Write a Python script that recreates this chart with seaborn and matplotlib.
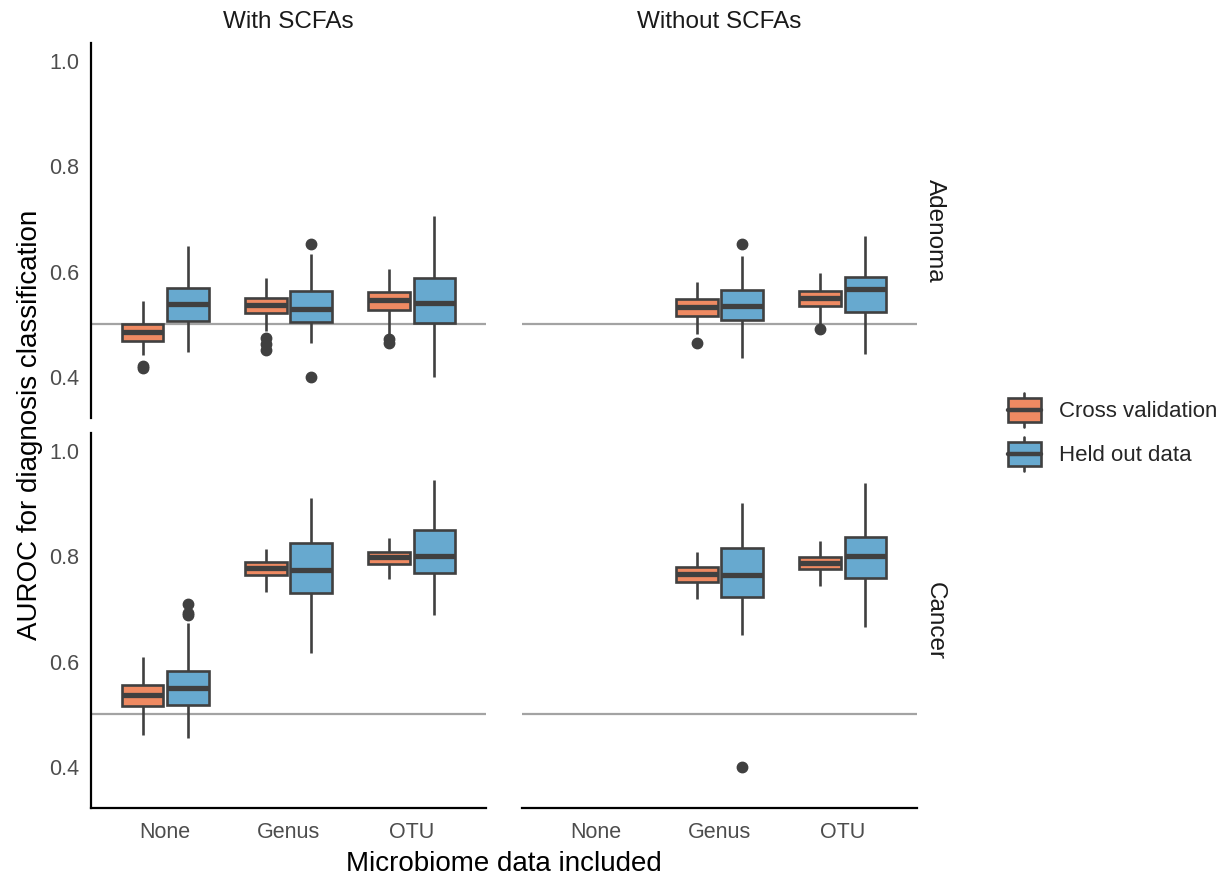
import numpy as np
import pandas as pd
import seaborn as sns
import matplotlib.pyplot as plt
from matplotlib.legend_handler import HandlerBase
from matplotlib.patches import Rectangle, Patch
from matplotlib.lines import Line2D

######### Data (AUROC per model run) #########
levels = ["None", "Genus", "OTU"]
methods = ["Cross validation", "Held out data"]
outcomes = ["Adenoma", "Cancer"]
scfa_sets = ["With SCFAs", "Without SCFAs"]

# Adenoma, with SCFAs
aden_with_none_cv = [0.417, 0.421, 0.441, 0.455, 0.469, 0.474, 0.478, 0.482, 0.486, 0.489, 0.493, 0.497, 0.500, 0.510, 0.520, 0.532, 0.545]
aden_with_none_ho = [0.448, 0.465, 0.480, 0.495, 0.507, 0.515, 0.524, 0.531, 0.538, 0.546, 0.554, 0.561, 0.568, 0.585, 0.605, 0.625, 0.648]
aden_with_genus_cv = [0.452, 0.463, 0.474, 0.487, 0.522, 0.526, 0.530, 0.534, 0.537, 0.540, 0.544, 0.547, 0.550, 0.560, 0.568, 0.577, 0.587]
aden_with_genus_ho = [0.399, 0.464, 0.480, 0.495, 0.505, 0.512, 0.518, 0.524, 0.529, 0.536, 0.544, 0.553, 0.563, 0.585, 0.610, 0.634, 0.652]
aden_with_otu_cv = [0.465, 0.472, 0.481, 0.500, 0.527, 0.532, 0.537, 0.542, 0.546, 0.550, 0.554, 0.558, 0.561, 0.572, 0.583, 0.594, 0.604]
aden_with_otu_ho = [0.399, 0.430, 0.460, 0.485, 0.502, 0.512, 0.522, 0.531, 0.540, 0.552, 0.564, 0.576, 0.588, 0.615, 0.645, 0.675, 0.705]

# Adenoma, without SCFAs
aden_without_genus_cv = [0.465, 0.481, 0.495, 0.505, 0.516, 0.520, 0.525, 0.529, 0.533, 0.537, 0.541, 0.545, 0.548, 0.556, 0.564, 0.572, 0.580]
aden_without_genus_ho = [0.435, 0.460, 0.480, 0.495, 0.509, 0.515, 0.522, 0.528, 0.535, 0.542, 0.550, 0.557, 0.565, 0.585, 0.605, 0.630, 0.652]
aden_without_otu_cv = [0.491, 0.500, 0.512, 0.524, 0.535, 0.539, 0.543, 0.547, 0.550, 0.553, 0.556, 0.560, 0.563, 0.572, 0.580, 0.588, 0.597]
aden_without_otu_ho = [0.443, 0.465, 0.490, 0.508, 0.524, 0.535, 0.546, 0.556, 0.566, 0.572, 0.578, 0.584, 0.589, 0.608, 0.628, 0.648, 0.668]

# Cancer, with SCFAs
canc_with_none_cv = [0.461, 0.475, 0.490, 0.503, 0.515, 0.521, 0.526, 0.532, 0.537, 0.542, 0.547, 0.551, 0.556, 0.570, 0.583, 0.596, 0.608]
canc_with_none_ho = [0.454, 0.475, 0.495, 0.507, 0.517, 0.525, 0.534, 0.542, 0.550, 0.558, 0.567, 0.575, 0.583, 0.673, 0.688, 0.692, 0.710]
canc_with_genus_cv = [0.733, 0.742, 0.750, 0.757, 0.764, 0.768, 0.771, 0.775, 0.778, 0.781, 0.784, 0.787, 0.789, 0.795, 0.801, 0.807, 0.813]
canc_with_genus_ho = [0.617, 0.650, 0.685, 0.710, 0.730, 0.741, 0.752, 0.762, 0.773, 0.786, 0.799, 0.812, 0.825, 0.850, 0.870, 0.890, 0.910]
canc_with_otu_cv = [0.757, 0.765, 0.772, 0.779, 0.786, 0.789, 0.792, 0.795, 0.798, 0.801, 0.803, 0.806, 0.808, 0.815, 0.822, 0.829, 0.835]
canc_with_otu_ho = [0.688, 0.710, 0.735, 0.755, 0.769, 0.777, 0.785, 0.792, 0.800, 0.812, 0.825, 0.838, 0.850, 0.875, 0.900, 0.922, 0.945]

# Cancer, without SCFAs
canc_without_genus_cv = [0.719, 0.728, 0.736, 0.744, 0.751, 0.755, 0.759, 0.762, 0.766, 0.769, 0.772, 0.776, 0.779, 0.786, 0.793, 0.800, 0.808]
canc_without_genus_ho = [0.400, 0.651, 0.680, 0.705, 0.723, 0.733, 0.743, 0.754, 0.764, 0.777, 0.790, 0.803, 0.815, 0.840, 0.865, 0.885, 0.902]
canc_without_otu_cv = [0.743, 0.752, 0.760, 0.768, 0.775, 0.778, 0.782, 0.785, 0.788, 0.791, 0.794, 0.796, 0.799, 0.807, 0.814, 0.822, 0.829]
canc_without_otu_ho = [0.665, 0.690, 0.715, 0.740, 0.759, 0.769, 0.779, 0.790, 0.800, 0.809, 0.818, 0.827, 0.836, 0.860, 0.885, 0.912, 0.940]

groups = [
    ("Adenoma", "With SCFAs", "None", "Cross validation", aden_with_none_cv),
    ("Adenoma", "With SCFAs", "None", "Held out data", aden_with_none_ho),
    ("Adenoma", "With SCFAs", "Genus", "Cross validation", aden_with_genus_cv),
    ("Adenoma", "With SCFAs", "Genus", "Held out data", aden_with_genus_ho),
    ("Adenoma", "With SCFAs", "OTU", "Cross validation", aden_with_otu_cv),
    ("Adenoma", "With SCFAs", "OTU", "Held out data", aden_with_otu_ho),
    ("Adenoma", "Without SCFAs", "Genus", "Cross validation", aden_without_genus_cv),
    ("Adenoma", "Without SCFAs", "Genus", "Held out data", aden_without_genus_ho),
    ("Adenoma", "Without SCFAs", "OTU", "Cross validation", aden_without_otu_cv),
    ("Adenoma", "Without SCFAs", "OTU", "Held out data", aden_without_otu_ho),
    ("Cancer", "With SCFAs", "None", "Cross validation", canc_with_none_cv),
    ("Cancer", "With SCFAs", "None", "Held out data", canc_with_none_ho),
    ("Cancer", "With SCFAs", "Genus", "Cross validation", canc_with_genus_cv),
    ("Cancer", "With SCFAs", "Genus", "Held out data", canc_with_genus_ho),
    ("Cancer", "With SCFAs", "OTU", "Cross validation", canc_with_otu_cv),
    ("Cancer", "With SCFAs", "OTU", "Held out data", canc_with_otu_ho),
    ("Cancer", "Without SCFAs", "Genus", "Cross validation", canc_without_genus_cv),
    ("Cancer", "Without SCFAs", "Genus", "Held out data", canc_without_genus_ho),
    ("Cancer", "Without SCFAs", "OTU", "Cross validation", canc_without_otu_cv),
    ("Cancer", "Without SCFAs", "OTU", "Held out data", canc_without_otu_ho),
]

records = []
for outcome, scfa, level, method, values in groups:
    for v in values:
        records.append({"outcome": outcome, "scfa": scfa, "level": level,
                        "method": method, "auc": v})
df = pd.DataFrame(records)

######### Style #########
sns.set_theme(style="white")
plt.rcParams["font.family"] = ["Liberation Sans", "DejaVu Sans"]

palette = {"Cross validation": "#EF8A62", "Held out data": "#67A9CF"}
edge = "#404040"
lw = 1.9

W, H = 1227, 876
fig = plt.figure(figsize=(W / 100, H / 100), dpi=100)

col_x = [91, 522]
col_w = 395
row_y = [43, 433]
row_h = 375

for r, outcome in enumerate(outcomes):
    for c, scfa in enumerate(scfa_sets):
        ax = fig.add_axes([col_x[c] / W, 1 - (row_y[r] + row_h) / H, col_w / W, row_h / H])
        sub = df[(df["outcome"] == outcome) & (df["scfa"] == scfa)]
        ax.axhline(0.5, color="#A3A3A3", lw=1.6, zorder=0)
        sns.boxplot(data=sub, x="level", y="auc", hue="method",
                    order=levels, hue_order=methods, palette=palette,
                    width=0.73, gap=0.07, saturation=1,
                    linecolor=edge, linewidth=lw, fliersize=7.5,
                    flierprops=dict(marker="o", markerfacecolor=edge,
                                    markeredgecolor=edge),
                    medianprops=dict(linewidth=3.8, color=edge),
                    showcaps=False, legend=False, ax=ax)
        ax.set_xlim(-0.6, 2.6)
        ax.set_ylim(0.322, 1.034)
        ax.set_yticks([0.4, 0.6, 0.8, 1.0])
        ax.set_xlabel("")
        ax.set_ylabel("")
        for s in ["top", "right", "left", "bottom"]:
            ax.spines[s].set_visible(False)
        ax.tick_params(axis="both", colors="#333333", labelcolor="#4D4D4D",
                       labelsize=15.5, length=4.3, width=1.1, pad=4)
        ax.tick_params(axis="x", pad=6)
        if c == 0:
            ax.spines["left"].set_visible(True)
            ax.spines["left"].set_color("black")
            ax.spines["left"].set_linewidth(1.6)
            ax.yaxis.set_major_formatter(plt.FuncFormatter(lambda v, p: f"{v:.1f}"))
        else:
            ax.tick_params(axis="y", left=False, labelleft=False)
        if r == 1:
            ax.spines["bottom"].set_visible(True)
            ax.spines["bottom"].set_color("black")
            ax.spines["bottom"].set_linewidth(1.6)
        else:
            ax.tick_params(axis="x", bottom=False, labelbottom=False)

# facet strips
for c, scfa in enumerate(scfa_sets):
    fig.text((col_x[c] + col_w / 2) / W, 1 - 22 / H, scfa, ha="center",
             va="center", fontsize=17.5, color="#1A1A1A")
for r, outcome in enumerate(outcomes):
    fig.text(935 / W, 1 - (row_y[r] + row_h / 2) / H, outcome, ha="center",
             va="center", rotation=-90, fontsize=17.5, color="#1A1A1A")

fig.text(30 / W, 1 - 425 / H, "AUROC for diagnosis classification",
         rotation=90, ha="center", va="center", fontsize=20, color="black")
fig.text(504 / W, 1 - 871 / H, "Microbiome data included", ha="center",
         va="baseline", fontsize=20, color="black")


######### Legend with box-shaped keys #########
class BoxKey(HandlerBase):
    def create_artists(self, legend, orig_handle, xdescent, ydescent,
                       width, height, fontsize, trans):
        x0, y0 = -xdescent, -ydescent
        cx = x0 + width / 2
        b0, b1 = y0 + 0.16 * height, y0 + 0.84 * height
        whisk = Line2D([cx, cx], [y0, y0 + height], color=edge, lw=lw,
                       transform=trans)
        box = Rectangle((x0, b0), width, b1 - b0,
                        facecolor=orig_handle.get_facecolor(),
                        edgecolor=edge, lw=lw, transform=trans)
        med = Line2D([x0, x0 + width], [(b0 + b1) / 2] * 2, color=edge,
                     lw=3.2, transform=trans)
        return [whisk, box, med]


handles = [Patch(facecolor=palette[m]) for m in methods]
fig.legend(handles, methods, handler_map={Patch: BoxKey()},
           loc="center left", bbox_to_anchor=(992 / W, 1 - 432 / H),
           frameon=False, fontsize=16, handlelength=1.5, handleheight=2.0,
           labelspacing=0.45, handletextpad=0.8, borderpad=0.2)

fig.savefig("out.png", dpi=100)
